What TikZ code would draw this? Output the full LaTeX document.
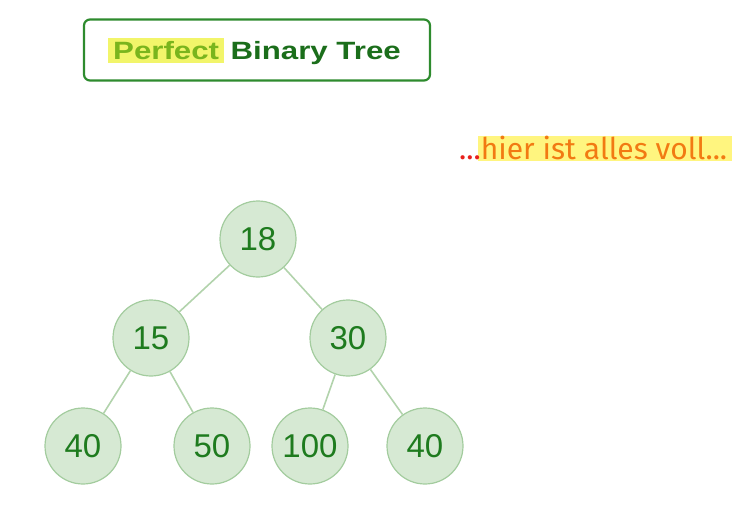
\documentclass[tikz,border=0pt]{standalone}
\usepackage{fontspec}
\setmainfont{Liberation Sans}
\newfontfamily\titlefont[FakeStretch=1.25]{Liberation Sans}
\newfontfamily\handfont{Fira Sans}
\definecolor{nodefill}{HTML}{D6E9D3}
\definecolor{nodeborder}{HTML}{A3CC9E}
\definecolor{nodetext}{HTML}{1E7B1E}
\definecolor{edgecol}{HTML}{B2D3AC}
\definecolor{titlegreen}{HTML}{1B6E1B}
\definecolor{perfgreen}{HTML}{7AB51D}
\definecolor{hlyellow}{HTML}{F2F56A}
\definecolor{notehl}{HTML}{FFF57F}
\definecolor{notered}{HTML}{E8201C}
\definecolor{noteorange}{HTML}{F27A12}
\definecolor{boxborder}{HTML}{2E8B2E}
\tikzset{
  treenode/.style={circle, draw=nodeborder, line width=1.2pt, fill=nodefill,
    minimum size=76pt, inner sep=0pt, text=nodetext, font=\fontsize{33}{33}\selectfont},
  treeedge/.style={draw=edgecol, line width=1.6pt},
  titletext/.style={font=\titlefont\fontsize{25}{25}\selectfont\bfseries, anchor=base west},
}
\begin{document}
\begin{tikzpicture}[x=1pt,y=-1pt]
\useasboundingbox (0,0) rectangle (740,523);
% title box
\node (titlebox) [draw=boxborder, line width=2.2pt, rounded corners=6pt,
  minimum width=346pt, minimum height=61pt, inner sep=0pt] at (257,50) {};
\node (pf) [titletext, fill=hlyellow, inner xsep=5pt, inner ysep=0pt, minimum height=25pt,
  text=perfgreen] at (108,59) {Perfect};
\node (bt) [titletext, text=titlegreen, inner sep=0pt]
  at ([xshift=6pt]pf.base east) {Binary Tree};
% note
\node (notebg) [fill=notehl, minimum width=254pt, minimum height=25pt, inner sep=0pt]
  at (605,148) {};
\node (note) [anchor=base west, inner sep=0pt, font=\handfont\fontsize{30}{30}\selectfont]
  at (459,159) {\textcolor{notered}{...}\textcolor{noteorange}{hier ist alles voll...}};
% tree
\node[treenode] (n18) at (258,239) {18};
\node[treenode] (n15) at (151,338) {15};
\node[treenode] (n30) at (348,338) {30};
\node[treenode] (n40a) at (83,446) {40};
\node[treenode] (n50) at (212,446) {50};
\node[treenode] (n100) at (310,446) {100};
\node[treenode] (n40b) at (425,446) {40};
\draw[treeedge] (n18) -- (n15);
\draw[treeedge] (n18) -- (n30);
\draw[treeedge] (n15) -- (n40a);
\draw[treeedge] (n15) -- (n50);
\draw[treeedge] (n30) -- (n100);
\draw[treeedge] (n30) -- (n40b);
\end{tikzpicture}
\end{document}
